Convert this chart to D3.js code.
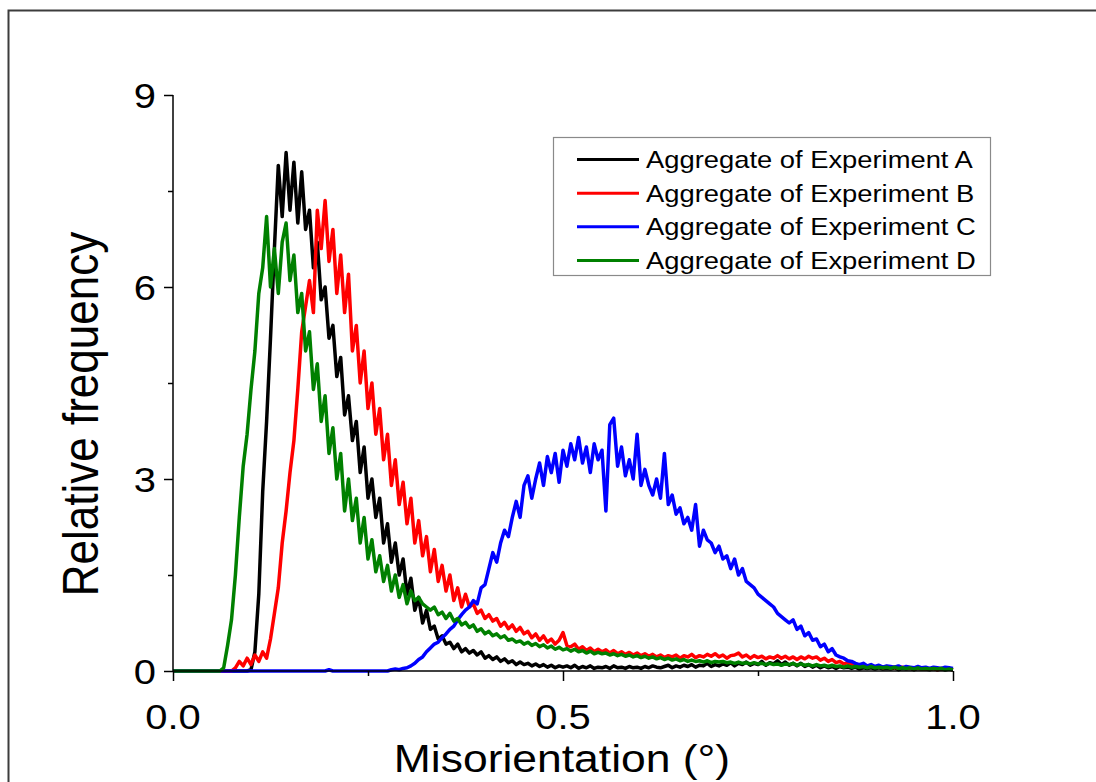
<!DOCTYPE html>
<html>
<head>
<meta charset="utf-8">
<script src="https://cdn.jsdelivr.net/npm/d3@7"></script>
<style>
  html, body { margin: 0; padding: 0; background: #fff; }
  svg { display: block; }
  text { font-family: Arial, "Liberation Sans", sans-serif; fill: #000; }
</style>
</head>
<body>
<svg id="chart" width="1096" height="782"></svg>
<script>
// Misorientation histograms, bin width 0.005 deg, from 0.000 to 1.000 (201 bins)
const binWidth = 0.005;

const seriesNames = [
  "Aggregate of Experiment A",
  "Aggregate of Experiment B",
  "Aggregate of Experiment C",
  "Aggregate of Experiment D"
];
const seriesColors = ["#000000", "#ff0000", "#0000ff", "#008000"];

const freqA = [
  0,0,0,0,0,0,0,0,0,0,
  0,0,0,0,0,0,0,0,0,0,
  0.02,0.3,1.2,2.8,3.9,5.2,6.6,7.9,7.1,8.1,
  7.2,7.95,7.0,7.8,6.9,7.2,6.3,6.7,5.8,6.0,
  5.2,5.4,4.6,4.9,4.0,4.3,3.6,3.9,3.1,3.5,
  2.7,3.0,2.4,2.7,2.0,2.3,1.7,2.0,1.5,1.75,
  1.2,1.45,0.95,1.15,0.75,0.95,0.65,0.7,0.5,0.55,
  0.42,0.45,0.35,0.42,0.3,0.35,0.28,0.32,0.25,0.3,
  0.2,0.24,0.18,0.22,0.15,0.19,0.13,0.16,0.1,0.14,
  0.1,0.12,0.08,0.11,0.07,0.1,0.06,0.09,0.05,0.08,
  0.06,0.08,0.05,0.09,0.04,0.07,0.05,0.08,0.04,0.06,
  0.05,0.07,0.04,0.08,0.05,0.06,0.04,0.07,0.05,0.06,
  0.04,0.07,0.05,0.08,0.06,0.05,0.07,0.09,0.05,0.08,
  0.06,0.09,0.07,0.1,0.06,0.09,0.08,0.12,0.07,0.1,
  0.08,0.11,0.09,0.13,0.08,0.12,0.1,0.14,0.09,0.12,
  0.1,0.15,0.09,0.13,0.11,0.16,0.1,0.14,0.09,0.12,
  0.08,0.12,0.07,0.1,0.06,0.09,0.05,0.08,0.05,0.07,
  0.04,0.07,0.05,0.06,0.04,0.06,0.03,0.05,0.04,0.05,
  0.03,0.05,0.03,0.04,0.03,0.05,0.02,0.04,0.03,0.04,
  0.02,0.04,0.03,0.03,0.02,0.04,0.02,0.03,0.02,0.03,
  0.02
];

const freqB = [
  0,0,0,0,0,0,0,0,0,0,
  0,0,0,0,0,0,0.05,0.15,0.08,0.2,
  0.1,0.25,0.15,0.3,0.2,0.5,0.9,1.3,2.0,2.5,
  3.1,3.6,4.4,5.3,5.7,6.1,5.6,7.2,6.6,7.35,
  6.4,6.9,5.9,6.5,5.6,6.2,5.0,5.4,4.5,5.0,
  4.1,4.5,3.7,4.1,3.3,3.7,2.9,3.3,2.6,2.95,
  2.3,2.7,2.0,2.35,1.8,2.1,1.55,1.9,1.4,1.65,
  1.25,1.5,1.1,1.3,1.0,1.2,1.0,1.05,0.9,0.95,
  0.82,0.88,0.78,0.82,0.7,0.76,0.66,0.72,0.62,0.68,
  0.58,0.62,0.52,0.58,0.48,0.55,0.45,0.5,0.42,0.48,
  0.6,0.4,0.38,0.42,0.34,0.38,0.32,0.36,0.3,0.34,
  0.3,0.33,0.28,0.32,0.27,0.3,0.26,0.29,0.25,0.28,
  0.24,0.27,0.23,0.26,0.22,0.25,0.21,0.24,0.22,0.25,
  0.2,0.24,0.22,0.26,0.21,0.24,0.22,0.26,0.23,0.27,
  0.22,0.25,0.2,0.24,0.25,0.28,0.22,0.25,0.2,0.24,
  0.21,0.23,0.19,0.22,0.2,0.24,0.2,0.23,0.19,0.22,
  0.18,0.22,0.19,0.23,0.2,0.22,0.17,0.2,0.15,0.18,
  0.13,0.15,0.11,0.13,0.09,0.11,0.08,0.1,0.07,0.09,
  0.06,0.08,0.05,0.07,0.05,0.06,0.04,0.06,0.04,0.05,
  0.03,0.05,0.03,0.04,0.03,0.04,0.02,0.04,0.03,0.03,
  0.02
];

const freqC = [
  0,0,0,0,0,0,0,0,0,0,
  0,0,0,0,0,0,0,0,0,0,
  0,0,0,0,0,0,0,0,0,0,
  0,0,0,0,0,0,0,0,0,0,
  0.02,0,0,0,0,0,0,0,0,0,
  0,0,0,0,0,0,0.02,0.03,0.02,0.04,
  0.05,0.08,0.12,0.18,0.22,0.3,0.36,0.42,0.45,0.52,
  0.58,0.65,0.7,0.8,0.88,0.95,1.0,1.1,1.05,1.3,
  1.35,1.6,1.85,1.7,2.0,2.2,2.1,2.4,2.65,2.4,
  2.9,3.05,2.7,3.0,3.25,2.9,3.35,3.1,3.4,2.95,
  3.45,3.2,3.55,3.3,3.65,3.25,3.5,3.1,3.55,3.3,
  3.45,2.5,3.85,3.95,3.2,3.5,3.05,3.3,3.0,3.7,
  2.9,3.15,2.9,2.75,3.0,2.7,3.4,2.6,2.75,2.45,
  2.55,2.3,2.4,2.2,2.6,1.95,2.2,2.05,2.0,1.85,
  1.95,1.75,1.8,1.6,1.75,1.5,1.6,1.4,1.35,1.3,
  1.2,1.15,1.1,1.05,1.0,0.9,0.85,0.8,0.75,0.8,
  0.65,0.7,0.55,0.6,0.48,0.5,0.38,0.42,0.3,0.35,
  0.25,0.22,0.2,0.16,0.15,0.12,0.1,0.12,0.08,0.1,
  0.07,0.09,0.06,0.08,0.07,0.06,0.08,0.05,0.07,0.06,
  0.05,0.07,0.05,0.06,0.04,0.06,0.05,0.04,0.06,0.05,
  0.04
];

const freqD = [
  0,0,0,0,0,0,0,0,0,0,
  0,0,0,0.05,0.4,0.8,1.5,2.4,3.2,3.7,
  4.4,5.0,5.9,6.3,7.1,6.0,6.6,5.9,6.7,7.0,
  6.1,6.5,5.6,5.9,5.0,5.3,4.4,4.8,3.9,4.3,
  3.4,3.8,3.0,3.4,2.5,3.0,2.35,2.7,2.0,2.4,
  1.75,2.05,1.55,1.8,1.4,1.65,1.25,1.5,1.15,1.35,
  1.05,1.25,1.1,1.15,1.05,1.0,0.95,1.0,0.88,0.92,
  0.82,0.9,0.78,0.82,0.72,0.76,0.68,0.72,0.62,0.66,
  0.58,0.62,0.55,0.58,0.52,0.55,0.48,0.5,0.45,0.47,
  0.42,0.45,0.4,0.43,0.38,0.41,0.36,0.39,0.34,0.37,
  0.33,0.35,0.31,0.34,0.3,0.32,0.28,0.31,0.27,0.29,
  0.27,0.28,0.25,0.27,0.24,0.26,0.23,0.25,0.22,0.24,
  0.21,0.23,0.2,0.22,0.19,0.21,0.18,0.2,0.17,0.19,
  0.16,0.18,0.15,0.17,0.15,0.16,0.14,0.16,0.13,0.15,
  0.14,0.15,0.13,0.14,0.12,0.14,0.12,0.13,0.11,0.13,
  0.11,0.12,0.1,0.12,0.1,0.11,0.09,0.11,0.1,0.12,
  0.09,0.11,0.09,0.1,0.08,0.1,0.08,0.09,0.07,0.09,
  0.07,0.08,0.06,0.08,0.06,0.07,0.06,0.07,0.05,0.07,
  0.05,0.06,0.05,0.06,0.04,0.06,0.04,0.05,0.04,0.05,
  0.03,0.05,0.03,0.04,0.03,0.04,0.03,0.04,0.02,0.03,
  0.02
];

const seriesValues = [freqA, freqB, freqC, freqD];

const xTicks = [0, 0.5, 1.0];
const xTickLabels = ["0.0", "0.5", "1.0"];
const xMinorTicks = [0.25, 0.75];
const yTicks = [0, 3, 6, 9];
const yTickLabels = ["0", "3", "6", "9"];
const yMinorTicks = [1.5, 4.5, 7.5];

const xTitle = "Misorientation (°)";
const yTitle = "Relative frequency";

// ---- layout ----
const svg = d3.select("#chart");
const stretch = 1.14;   // typeface is drawn slightly wide

// outer frame
svg.append("rect")
  .attr("x", 8.5).attr("y", 10.5)
  .attr("width", 1120).attr("height", 820)
  .attr("fill", "#fff")
  .attr("stroke", "#3c3c3c").attr("stroke-width", 2);

const x = d3.scaleLinear().domain([0, 1]).range([173, 953]);
const y = d3.scaleLinear().domain([0, 9]).range([671, 95]);

// data lines (A, B, C, D; later series on top)
const line = d3.line()
  .x((d, i) => x(i * binWidth))
  .y(d => y(d));

const plot = svg.append("g");
seriesValues.forEach((vals, k) => {
  plot.append("path")
    .datum(vals)
    .attr("fill", "none")
    .attr("stroke", seriesColors[k])
    .attr("stroke-width", 3.5)
    .attr("stroke-linejoin", "round")
    .attr("d", line);
});

// axes
const xAxisG = svg.append("g").attr("transform", `translate(0,${y(0)})`);
xAxisG.call(d3.axisBottom(x).tickValues(xTicks).tickSize(10).tickFormat(""))
  .call(g => g.selectAll("line, path").attr("stroke", "#000").attr("stroke-width", 1.5))
  .call(g => g.select(".domain").attr("d", `M${x(0)},0H${x(1)}`));
xAxisG.append("g")
  .call(d3.axisBottom(x).tickValues(xMinorTicks).tickSize(5).tickFormat(""))
  .call(g => g.select(".domain").remove())
  .call(g => g.selectAll("line").attr("stroke", "#000").attr("stroke-width", 1.5));

const yAxisG = svg.append("g").attr("transform", `translate(${x(0)},0)`);
yAxisG.call(d3.axisLeft(y).tickValues(yTicks).tickSize(9).tickFormat(""))
  .call(g => g.selectAll("line, path").attr("stroke", "#000").attr("stroke-width", 1.5))
  .call(g => g.select(".domain").attr("d", `M0,${y(0)}V${y(9)}`));
yAxisG.append("g")
  .call(d3.axisLeft(y).tickValues(yMinorTicks).tickSize(5).tickFormat(""))
  .call(g => g.select(".domain").remove())
  .call(g => g.selectAll("line").attr("stroke", "#000").attr("stroke-width", 1.5));

// tick labels
svg.append("g").selectAll("text")
  .data(xTicks)
  .join("text")
  .attr("transform", d => `translate(${x(d)},729) scale(${stretch},1)`)
  .attr("text-anchor", "middle")
  .attr("font-size", 35)
  .text((d, i) => xTickLabels[i]);

svg.append("g").selectAll("text")
  .data(yTicks)
  .join("text")
  .attr("transform", d => `translate(156,${y(d) + 12.5}) scale(${stretch},1)`)
  .attr("text-anchor", "end")
  .attr("font-size", 35)
  .text((d, i) => yTickLabels[i]);

// axis titles
svg.append("text")
  .attr("transform", `translate(562,772) scale(${stretch},1)`)
  .attr("text-anchor", "middle")
  .attr("font-size", 39)
  .text(xTitle);

svg.append("text")
  .attr("transform", `translate(98,414) scale(${stretch},1) rotate(-90)`)
  .attr("text-anchor", "middle")
  .attr("font-size", 44)
  .text(yTitle);

// legend
const legend = svg.append("g");
legend.append("rect")
  .attr("x", 553.5).attr("y", 137.5)
  .attr("width", 437).attr("height", 138)
  .attr("fill", "#fff")
  .attr("stroke", "#8a8a8a").attr("stroke-width", 1.2);

const rowY = d3.scalePoint().domain(d3.range(seriesNames.length)).range([159.5, 260.5]);
seriesNames.forEach((name, k) => {
  legend.append("line")
    .attr("x1", 577).attr("x2", 639)
    .attr("y1", rowY(k)).attr("y2", rowY(k))
    .attr("stroke", seriesColors[k]).attr("stroke-width", 3);
  legend.append("text")
    .attr("transform", `translate(646,${rowY(k) + 8.5}) scale(${stretch},1)`)
    .attr("font-size", 24)
    .text(name);
});
</script>
</body>
</html>
